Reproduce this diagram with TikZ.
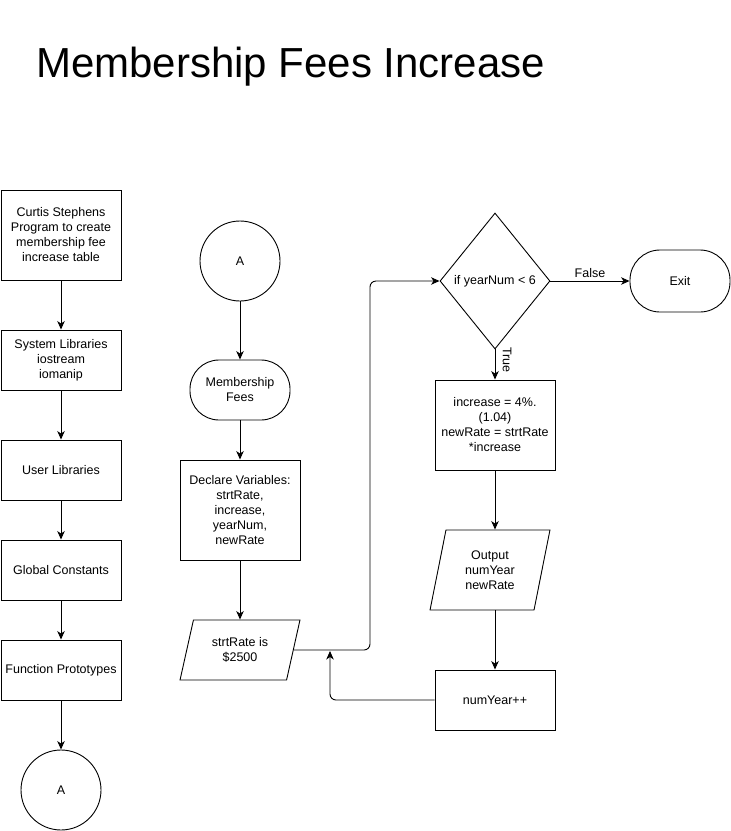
\documentclass[tikz,border=0pt]{standalone}
\usepackage{fontspec}
\setmainfont{Liberation Sans}
\usetikzlibrary{arrows.meta,shapes.geometric}
\begin{document}
\begin{tikzpicture}[x=1pt,y=-1pt,
  every node/.style={font=\fontsize{12.5pt}{15pt}\selectfont, align=center, inner sep=0pt},
  box/.style={draw, line width=0.9pt, minimum width=120pt},
  term/.style={draw, line width=0.9pt, minimum width=100pt, rounded corners=29pt},
  conn/.style={draw, circle, line width=0.9pt, minimum size=80pt},
  para/.style={draw, line width=0.9pt, trapezium, trapezium stretches=true,
    trapezium left angle=#1, trapezium right angle=180-#1, minimum width=120pt},
  dia/.style={draw, line width=0.9pt, diamond, minimum width=110pt, minimum height=136pt},
  arr/.style={line width=0.9pt, -{Stealth[length=8.5pt,width=7.5pt,inset=2.5pt]}},
  lbl/.style={font=\fontsize{12.5pt}{15pt}\selectfont}
]
\useasboundingbox (0,0) rectangle (731,831);
\node[anchor=base west, font=\fontsize{42pt}{50pt}\selectfont] (title) at (36,77) {Membership Fees Increase};

% left column
\node[box, minimum height=90pt] (b1) at (61,235) {Curtis Stephens\\Program to create\\membership fee\\increase table};
\node[box, minimum height=60pt] (b2) at (61,360) {System Libraries\\iostream\\iomanip};
\node[box, minimum height=60pt] (b3) at (61,470) {User Libraries};
\node[box, minimum height=60pt] (b4) at (61,570) {Global Constants};
\node[box, minimum height=60pt] (b5) at (61,670) {Function Prototypes};
\node[conn] (a1) at (61,790) {A};
\draw[arr] (b1) -- (b2);
\draw[arr] (b2) -- (b3);
\draw[arr] (b3) -- (b4);
\draw[arr] (b4) -- (b5);
\draw[arr] (b5) -- (a1);

% middle column
\node[conn] (a2) at (240,261) {A};
\node[term, minimum height=60pt] (mf) at (240,390) {Membership\\Fees};
\node[box, minimum height=100pt] (dv) at (240,510) {Declare Variables:\\strtRate,\\increase,\\yearNum,\\newRate};
\node[para=72, minimum height=60pt] (p1) at (240,650) {strtRate is\\\$2500};
\draw[arr] (a2) -- (mf);
\draw[arr] (mf) -- (dv);
\draw[arr] (dv) -- (p1);

% right column
\node[dia] (d) at (495,281) {if yearNum < 6};
\node[term, minimum height=62pt, rounded corners=30pt] (ex) at (680,281) {Exit};
\node[box, minimum height=90pt] (inc) at (495,425) {increase = 4\%.\\(1.04)\\newRate = strtRate\\*increase};
\node[para=77, minimum height=80pt] (out) at (490,570) {Output\\numYear\\newRate};
\node[box, minimum height=60pt] (ny) at (495,700) {numYear++};

\draw[arr] (d.east) -- node[lbl, above=3pt] {False} (ex.west);
\draw[arr] (d.south) -- (inc.north);
\node[lbl, rotate=-90] (tlabel) at (507,360) {True};
\draw[arr] (inc.south) -- (inc.south |- out.north);
\draw[arr] (inc.south |- out.south) -- (ny.north);

\coordinate (j1) at (370,650);
\draw[arr, rounded corners=6pt] (p1.east) -- (j1) |- (d.west);
\coordinate (j2) at (330,651);
\draw[arr, rounded corners=6pt] (ny.west) -| (j2);
\end{tikzpicture}
\end{document}
